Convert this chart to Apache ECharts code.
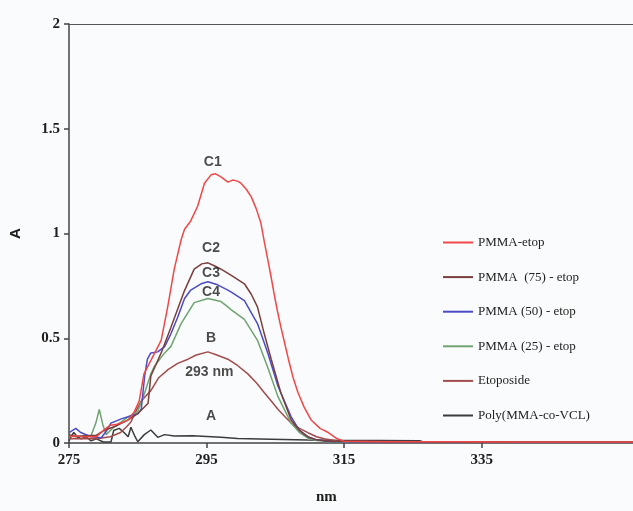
<!DOCTYPE html>
<html>
<head>
<meta charset="utf-8">
<script src="https://cdn.jsdelivr.net/npm/echarts@6/dist/echarts.min.js"></script>
<style>
  html, body { margin: 0; padding: 0; background: #fafbfd; }
  #chart { width: 633px; height: 511px; }
</style>
</head>
<body>
<div id="chart"></div>
<script>
// UV absorbance spectra, wavelength (nm) vs absorbance (A)
const xTicks = [275, 295, 315, 335];
const yTicks = [0, 0.5, 1, 1.5, 2];

const seriesNames = [
  'PMMA-etop',
  'PMMA  (75) - etop',
  'PMMA (50) - etop',
  'PMMA (25) - etop',
  'Etoposide',
  'Poly(MMA-co-VCL)'
];

const pmmaEtop = [
  [275,0.03],[276,0.035],[277,0.03],[278,0.03],[279,0.03],[280,0.06],[281,0.085],[282,0.09],
  [283,0.10],[283.6,0.11],[284.5,0.15],[285.2,0.2],[285.9,0.33],[287,0.40],[288.4,0.49],
  [289.35,0.65],[290.3,0.83],[291.3,0.97],[291.8,1.02],[292.7,1.06],[293.7,1.13],[294.7,1.24],
  [295.65,1.28],[296.3,1.285],[297.1,1.27],[298.1,1.245],[298.8,1.255],[299.5,1.25],[300,1.24],
  [300.8,1.21],[301.5,1.175],[302.2,1.12],[302.9,1.05],[303.4,0.96],[303.9,0.875],[304.4,0.79],
  [304.8,0.716],[305.3,0.63],[305.8,0.554],[306.4,0.47],[306.9,0.40],[307.6,0.31],[308.3,0.24],
  [309.2,0.17],[310.2,0.11],[311.5,0.07],[312.7,0.05],[314,0.02],[315,0.008],[320,0.006],
  [330,0.006],[340,0.005],[350,0.005],[357,0.005]
];

const pmma75 = [
  [275,0.04],[276,0.03],[277.5,0.035],[279,0.037],[280.1,0.06],[282.1,0.085],[283.6,0.11],
  [285,0.14],[286.5,0.19],[286.9,0.32],[288.4,0.43],[289.8,0.55],[291.7,0.72],[293.2,0.83],
  [294.3,0.855],[295.2,0.86],[296.2,0.845],[297.1,0.83],[298.6,0.80],[300.5,0.76],[301.5,0.71],
  [302.4,0.65],[303.4,0.52],[304.4,0.40],[305.8,0.24],[307.3,0.11],[308.5,0.06],[309.7,0.03],
  [311,0.015],[313,0.008],[320,0.006],[330,0.005],[340,0.005],[357,0.005]
];

const pmma50 = [
  [275,0.05],[276,0.07],[276.7,0.05],[278.2,0.03],[279.7,0.025],[280.5,0.06],[281.1,0.095],
  [282.6,0.115],[283.6,0.125],[285,0.14],[285.5,0.16],[286,0.32],[286.4,0.40],[286.9,0.43],
  [287.9,0.435],[288.9,0.46],[289.8,0.52],[290.8,0.60],[291.8,0.69],[292.7,0.73],[294.2,0.76],
  [295.2,0.77],[296.6,0.755],[298.1,0.73],[298.6,0.72],[300.5,0.68],[302.4,0.57],[303.9,0.43],
  [305.4,0.27],[307.3,0.125],[308.5,0.06],[309.7,0.03],[311,0.015],[313,0.007],[320,0.005],
  [357,0.005]
];

const pmma25 = [
  [275,0.03],[277,0.035],[278.2,0.035],[278.9,0.095],[279.4,0.16],[279.9,0.09],[280.4,0.04],
  [281.5,0.075],[283.6,0.125],[285,0.15],[286,0.24],[286.9,0.33],[287.4,0.365],[288.9,0.43],
  [289.8,0.46],[291.3,0.57],[293.2,0.67],[295.2,0.69],[297.1,0.675],[298.1,0.65],[298.6,0.635],
  [300.5,0.59],[302.4,0.49],[303.9,0.36],[305.4,0.22],[307.3,0.095],[308.5,0.05],[309.7,0.024],
  [311,0.012],[313,0.006],[320,0.005],[357,0.005]
];

const etoposide = [
  [275,0.02],[277,0.02],[279,0.02],[281,0.03],[282.5,0.05],[283.3,0.075],[284,0.10],[284.7,0.15],
  [285.5,0.20],[286.9,0.25],[288,0.31],[289.4,0.35],[290.8,0.38],[292.3,0.40],[293.5,0.42],
  [295.2,0.435],[296.5,0.42],[298.1,0.40],[299.5,0.37],[301,0.33],[302.3,0.285],[303.4,0.24],
  [304.4,0.20],[305.4,0.16],[306.4,0.125],[307.3,0.095],[308.5,0.07],[309.8,0.048],[311,0.03],
  [312.1,0.02],[314,0.01],[315,0.008],[330,0.005],[357,0.005]
];

const polyMmaVcl = [
  [275,0.01],[275.3,0.03],[275.7,0.05],[276.2,0.03],[276.8,0.02],[277.5,0.03],[278.2,0.01],
  [279,0.02],[280,0.005],[281.1,0.005],[281.5,0.06],[282.3,0.07],[283,0.05],[283.6,0.03],
  [284.0,0.075],[284.6,0.03],[285.0,0.006],[285.95,0.04],[286.9,0.062],[287.9,0.027],
  [288.9,0.04],[290.3,0.033],[293,0.035],[297.1,0.027],[299.5,0.022],[304.4,0.018],
  [309.7,0.014],[315,0.012],[320,0.012],[326,0.011],[326.6,0.004],[357,0.004]
];

// curve annotations: [nm, A, text]
const notes = [
  [295.9, 1.34, 'C1'],
  [295.65, 0.93, 'C2'],
  [295.65, 0.81, 'C3'],
  [295.65, 0.72, 'C4'],
  [295.65, 0.50, 'B'],
  [295.4, 0.34, '293 nm'],
  [295.65, 0.13, 'A']
];

const colors = ['#f04848', '#7a3f3c', '#4b4bc4', '#6fa36f', '#a24c4c', '#3c3c3c'];
const dataSets = [pmmaEtop, pmma75, pmma50, pmma25, etoposide, polyMmaVcl];

const chart = echarts.init(document.getElementById('chart'), null, { renderer: 'canvas' });

const axisFont = { fontFamily: 'Liberation Serif', fontWeight: 'bold', fontSize: 15, color: '#1e1e1e' };

const lineSeries = seriesNames.map((name, i) => ({
  name: name,
  type: 'line',
  data: dataSets[i],
  showSymbol: false,
  symbol: 'none',
  smooth: false,
  lineStyle: { color: colors[i], width: 1.5 },
  itemStyle: { color: colors[i] },
  z: 10 - i,
  animation: false
}));

const option = {
  backgroundColor: '#fafbfd',
  animation: false,
  grid: { left: 68, top: 24, right: 0, bottom: 68, containLabel: false },
  legend: {
    data: seriesNames,
    orient: 'vertical',
    left: 438,
    top: 230,
    itemWidth: 30,
    itemHeight: 2,
    icon: 'rect',
    itemGap: 19.6,
    textStyle: { fontFamily: 'Liberation Serif', fontSize: 13, color: '#1e1e1e', lineHeight: 15 }
  },
  xAxis: [{
    type: 'value',
    min: 275,
    max: 357,
    interval: 20,
    position: 'bottom',
    axisLine: { show: true, lineStyle: { color: '#444', width: 1.5 } },
    axisTick: { show: true, length: 5, inside: false, customValues: xTicks, lineStyle: { color: '#444', width: 1.5 } },
    axisLabel: { show: true, margin: 10, customValues: xTicks, ...axisFont },
    splitLine: { show: false }
  }, {
    type: 'value',
    min: 275,
    max: 357,
    position: 'top',
    axisLine: { show: true, lineStyle: { color: '#555', width: 1.2 } },
    axisTick: { show: false },
    axisLabel: { show: false },
    splitLine: { show: false }
  }],
  yAxis: {
    type: 'value',
    min: 0,
    max: 2,
    interval: 0.5,
    name: 'A',
    nameLocation: 'middle',
    nameRotate: 90,
    nameGap: 46,
    nameTextStyle: { fontFamily: 'Liberation Sans', fontWeight: 'bold', fontSize: 15, color: '#1e1e1e' },
    axisLine: { show: true, lineStyle: { color: '#444', width: 1.5 } },
    axisTick: { show: true, length: 5, inside: false, customValues: yTicks, lineStyle: { color: '#444', width: 1.5 } },
    axisLabel: { show: true, margin: 9, customValues: yTicks, ...axisFont },
    splitLine: { show: false }
  },
  graphic: [{
    type: 'text',
    left: 316,
    top: 490,
    style: { text: 'nm', font: 'bold 15px "Liberation Serif"', fill: '#1e1e1e' }
  }],
  series: lineSeries.concat([{
    name: 'notes',
    type: 'scatter',
    data: notes.map(n => ({ value: [n[0], n[1]], label: { formatter: n[2] } })),
    symbolSize: 0,
    silent: true,
    z: 20,
    label: {
      show: true,
      position: 'inside',
      fontFamily: 'Liberation Sans',
      fontWeight: 'bold',
      fontSize: 14,
      color: '#1e1e1e'
    },
    animation: false
  }])
};

chart.setOption(option);
</script>
</body>
</html>
